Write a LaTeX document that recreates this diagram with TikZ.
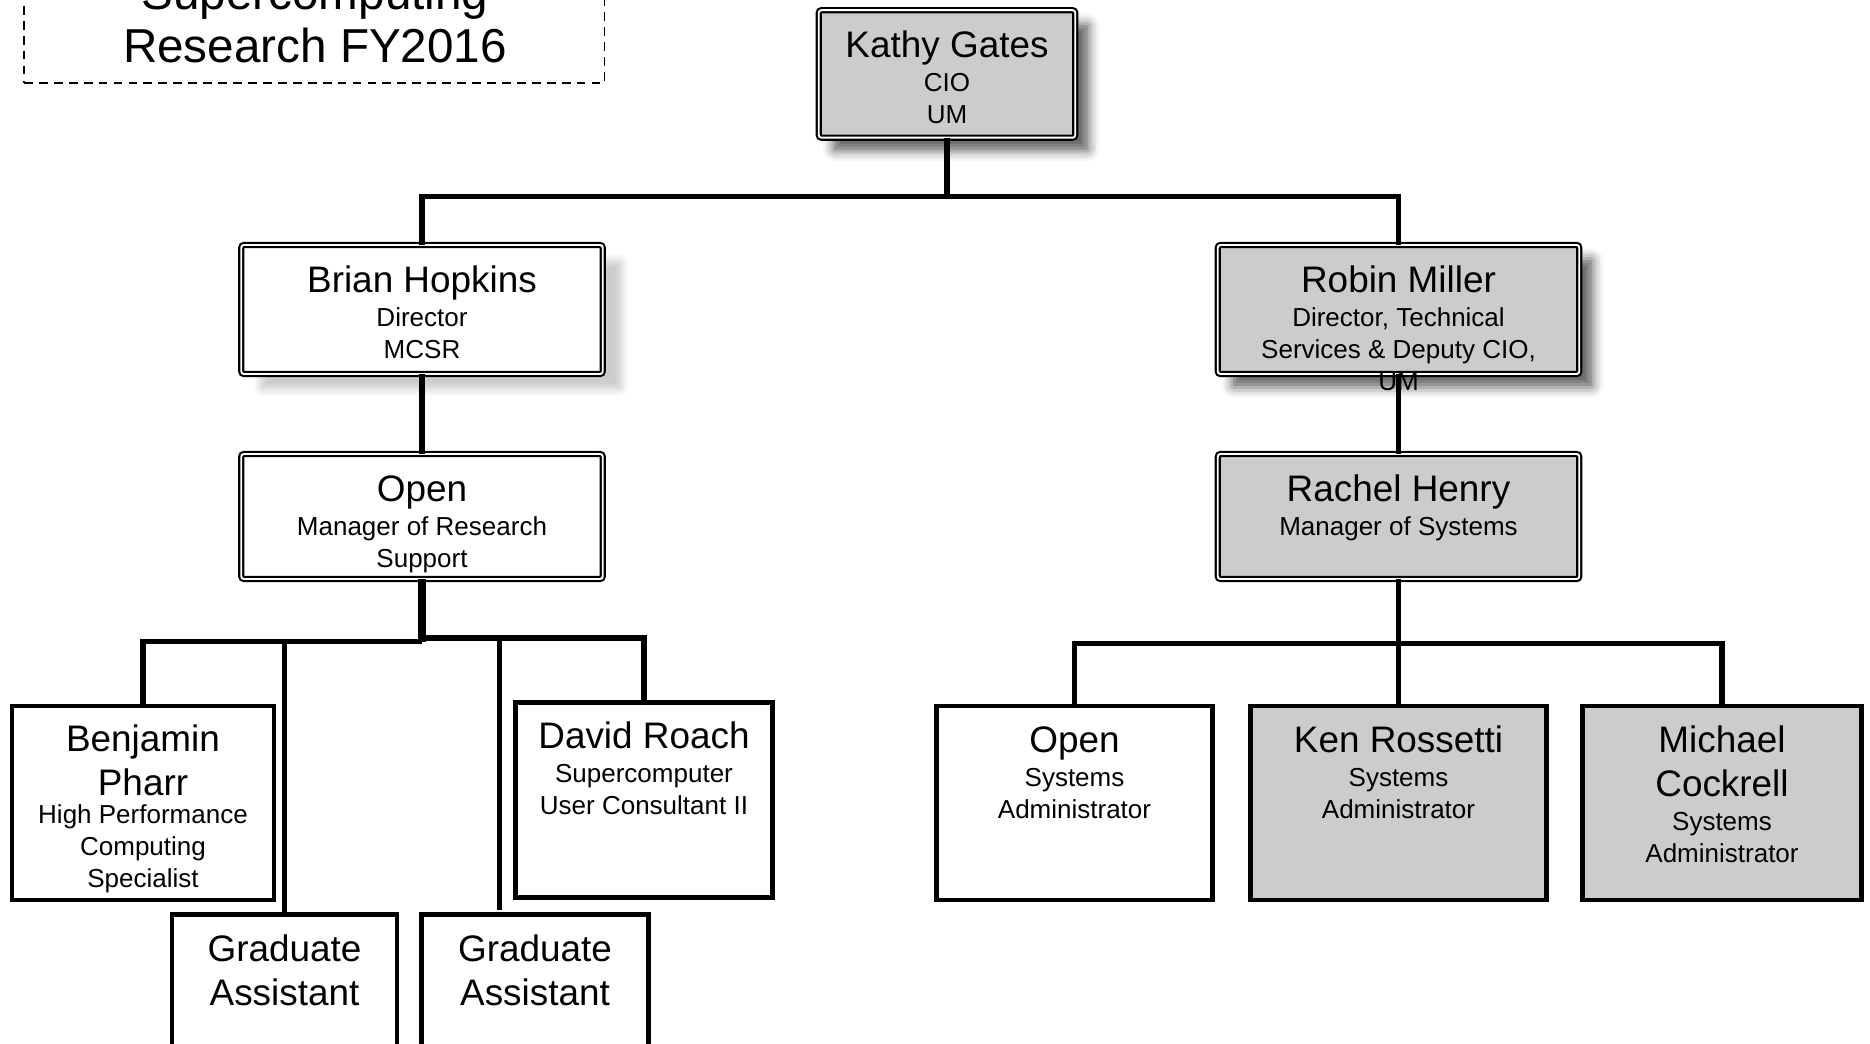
\documentclass[tikz,border=0pt]{standalone}
\usepackage{fontspec}
\setmainfont{Liberation Sans}
\usetikzlibrary{shadows.blur}

\definecolor{boxgray}{RGB}{204,204,204}

\newcommand{\tlfont}{\fontsize{14.8pt}{0pt}\selectfont\lineskip=0pt\lineskiplimit=0pt}
\newcommand{\pname}[1]{{\fontsize{21pt}{0pt}\selectfont\rule[-0.22cm]{0pt}{0.88cm}#1}}
\newcommand{\ptitle}[1]{\rule[-0.18cm]{0pt}{0.64cm}#1}

\begin{document}
\begin{tikzpicture}[]
      \coordinate (origo) at (0,0);
      \useasboundingbox (origo) rectangle (37.4,-20.86);
      \clip (origo) rectangle (37.4,-20.86);

      \tikzstyle{headbox} = [
        rectangle,
        draw=black,
        line width=1.2pt,
        double=white,
        double distance=1.1pt,
        rounded corners=1.5pt,
        inner sep=0pt,
        outer sep=0pt,
      ]
      \tikzstyle{cell} = [
        rectangle,
        draw=black,
        line width=2.8pt,
        fill=white,
        inner sep=0pt,
        outer sep=0pt,
        minimum height=3.88cm,
      ]
      \tikzstyle{boxtext} = [
        draw=none,
        anchor=north,
        inner sep=0pt,
        align=center,
        font=\tlfont
      ]
      \tikzstyle{deepshadow} = [blur shadow={shadow xshift=0.28cm, shadow yshift=-0.27cm, shadow blur radius=0.2cm, shadow opacity=60}]
      \tikzstyle{ghostshadow} = [blur shadow={shadow xshift=0.38cm, shadow yshift=-0.31cm, shadow blur radius=0.15cm, shadow opacity=20}]

      \tikzstyle{link} = [line width=2.9pt, draw=black]

      % title
      \node[rectangle, draw=black, line width=0.8pt, dash pattern=on 5pt off 3.5pt, minimum width=11.61cm, minimum height=3.2cm, anchor=south] (titleBox) at ([xshift=6.285cm,yshift=-1.67cm] origo) {};
      \node[draw=none, inner sep=0pt, align=center, anchor=south, font=\fontsize{27.1pt}{29.9pt}\selectfont] (titleText) at ([xshift=6.3cm,yshift=-1.26cm] origo) {Supercomputing\\Research FY2016};

      % head
      \node[headbox,fill=boxgray,deepshadow,minimum width=5.13cm,minimum height=2.55cm] (kathy) at ([xshift=18.94cm,yshift=-1.479cm] origo) {};

      % directors
      \node[headbox,fill=white,ghostshadow,minimum width=7.23cm,minimum height=2.58cm] (brian) at ([xshift=8.44cm,yshift=-6.19cm] origo) {};
      \node[headbox,fill=boxgray,deepshadow,minimum width=7.23cm,minimum height=2.58cm] (robin) at ([xshift=27.97cm,yshift=-6.19cm] origo) {};

      % managers
      \node[headbox,fill=white,minimum width=7.23cm,minimum height=2.5cm] (openMgr) at ([xshift=8.44cm,yshift=-10.33cm] origo) {};
      \node[headbox,fill=boxgray,minimum width=7.23cm,minimum height=2.5cm] (rachel) at ([xshift=27.97cm,yshift=-10.33cm] origo) {};

      % research staff
      \node[cell,minimum width=5.24cm] (benjamin) at ([xshift=2.86cm,yshift=-16.06cm] origo) {};
      \node[cell,minimum width=5.15cm,minimum height=3.9cm] (david) at ([xshift=12.88cm,yshift=-16.0cm] origo) {};
      \node[cell,minimum width=4.5cm,minimum height=2.9cm] (grad1) at ([xshift=5.69cm,yshift=-19.74cm] origo) {};
      \node[cell,minimum width=4.55cm,minimum height=2.9cm] (grad2) at ([xshift=10.7cm,yshift=-19.74cm] origo) {};

      % systems staff
      \node[cell,minimum width=5.53cm] (openSys) at ([xshift=21.49cm,yshift=-16.06cm] origo) {};
      \node[cell,fill=boxgray,minimum width=5.93cm] (ken) at ([xshift=27.97cm,yshift=-16.06cm] origo) {};
      \node[cell,fill=boxgray,minimum width=5.58cm] (michael) at ([xshift=34.44cm,yshift=-16.06cm] origo) {};

      % top links
      \draw[link] (kathy.south) -- ++(0,-1.17) -| (brian.north);
      \draw[link] (kathy.south) -- ++(0,-1.17) -| (robin.north);
      \draw[link] (brian.south) -- (openMgr.north);
      \draw[link] (robin.south) -- (rachel.north);

      % left links
      \draw[line width=4.5pt] (openMgr.south) -- ([yshift=-1.25cm] openMgr.south);
      \draw[link] ([yshift=-1.25cm] openMgr.south) -| (benjamin.north);
      \draw[link] ([yshift=-1.25cm] openMgr.south) -| (grad1.north);
      \draw[link] ([yshift=-1.18cm] openMgr.south) -| (david.north);
      \draw[link] ([yshift=-1.18cm] openMgr.south) -| ([xshift=-0.71cm,yshift=0.1cm] grad2.north);

      % right links
      \draw[link] (rachel.south) -- ([yshift=-1.29cm] rachel.south);
      \draw[link] ([yshift=-1.29cm] rachel.south) -| (openSys.north);
      \draw[link] ([yshift=-1.29cm] rachel.south) -| (ken.north);
      \draw[link] ([yshift=-1.29cm] rachel.south) -| (michael.north);

      % texts
      \node[boxtext] (kathyText) at ([yshift=-0.28cm] kathy.north) {\pname{Kathy Gates}\\\ptitle{CIO}\\\ptitle{UM}};
      \node[boxtext] (brianText) at ([yshift=-0.28cm] brian.north) {\pname{Brian Hopkins}\\\ptitle{Director}\\\ptitle{MCSR}};
      \node[boxtext] (robinText) at ([yshift=-0.28cm] robin.north) {\pname{Robin Miller}\\\ptitle{Director, Technical}\\\ptitle{Services \& Deputy CIO,}\\\ptitle{UM}};
      \node[boxtext] (openMgrText) at ([yshift=-0.28cm] openMgr.north) {\pname{Open}\\\ptitle{Manager of Research}\\\ptitle{Support}};
      \node[boxtext] (rachelText) at ([yshift=-0.28cm] rachel.north) {\pname{Rachel Henry}\\\ptitle{Manager of Systems}};
      \node[boxtext] (benjaminText) at ([yshift=-0.24cm] benjamin.north) {\pname{Benjamin}\\\pname{Pharr}\\[-0.12cm]\ptitle{High Performance}\\\ptitle{Computing}\\\ptitle{Specialist}};
      \node[boxtext] (davidText) at ([yshift=-0.26cm] david.north) {\pname{David Roach}\\\ptitle{Supercomputer}\\\ptitle{User Consultant II}};
      \node[boxtext] (grad1Text) at ([yshift=-0.28cm] grad1.north) {\pname{Graduate}\\\pname{Assistant}};
      \node[boxtext] (grad2Text) at ([yshift=-0.28cm] grad2.north) {\pname{Graduate}\\\pname{Assistant}};
      \node[boxtext] (openSysText) at ([yshift=-0.26cm] openSys.north) {\pname{Open}\\\ptitle{Systems}\\\ptitle{Administrator}};
      \node[boxtext] (kenText) at ([yshift=-0.26cm] ken.north) {\pname{Ken Rossetti}\\\ptitle{Systems}\\\ptitle{Administrator}};
      \node[boxtext] (michaelText) at ([yshift=-0.26cm] michael.north) {\pname{Michael}\\\pname{Cockrell}\\\ptitle{Systems}\\\ptitle{Administrator}};
    \end{tikzpicture}
\end{document}
